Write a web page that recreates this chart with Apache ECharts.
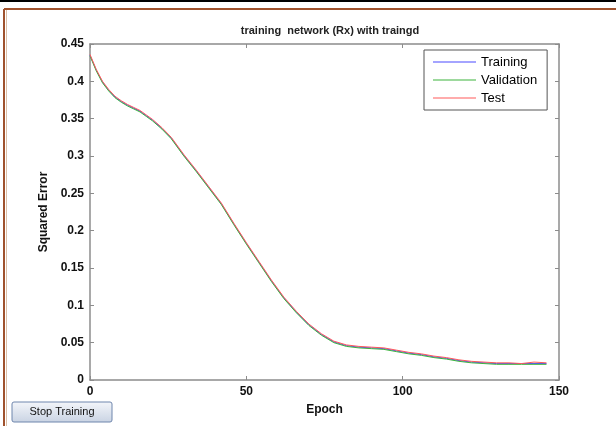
<!DOCTYPE html>
<html>
<head>
<meta charset="utf-8">
<script src="https://cdn.jsdelivr.net/npm/echarts@6/dist/echarts.min.js"></script>
<style>
html, body { margin: 0; padding: 0; background: #fff; }
#container { width: 616px; height: 426px; }
</style>
</head>
<body>
<div id="container"></div>
<script>
// values
var epochs = [0, 2, 4, 6, 8, 10, 12, 14, 16, 18, 20, 23, 26, 30, 34, 38, 42, 46, 50, 54, 58, 62, 66, 70, 74, 78, 82, 86, 90, 94, 98, 102, 106, 110, 114, 118, 122, 126, 130, 134, 138, 142, 146];
var trainErr = [0.435, 0.415, 0.399, 0.388, 0.379, 0.373, 0.368, 0.364, 0.360, 0.354, 0.348, 0.337, 0.324, 0.301, 0.280, 0.258, 0.236, 0.209, 0.183, 0.158, 0.133, 0.110, 0.091, 0.074, 0.061, 0.051, 0.046, 0.044, 0.043, 0.042, 0.039, 0.036, 0.034, 0.031, 0.029, 0.026, 0.024, 0.023, 0.022, 0.022, 0.022, 0.022, 0.022];
var validErr = [0.434, 0.414, 0.398, 0.387, 0.378, 0.372, 0.367, 0.363, 0.359, 0.353, 0.347, 0.336, 0.323, 0.300, 0.279, 0.257, 0.235, 0.208, 0.182, 0.157, 0.132, 0.109, 0.090, 0.073, 0.060, 0.050, 0.045, 0.043, 0.042, 0.041, 0.038, 0.035, 0.033, 0.030, 0.028, 0.025, 0.023, 0.022, 0.021, 0.021, 0.021, 0.021, 0.021];
var testErr = [0.436, 0.416, 0.400, 0.389, 0.380, 0.374, 0.369, 0.365, 0.361, 0.355, 0.349, 0.338, 0.325, 0.302, 0.281, 0.259, 0.237, 0.210, 0.184, 0.159, 0.134, 0.111, 0.092, 0.075, 0.062, 0.052, 0.047, 0.045, 0.044, 0.043, 0.040, 0.037, 0.035, 0.032, 0.030, 0.027, 0.025, 0.024, 0.023, 0.023, 0.022, 0.024, 0.023];
var seriesNames = ['Training', 'Validation', 'Test'];
var colors = ['#4a4aff', '#3cb43c', '#ff5a5a'];

function pairs(ys) {
    var out = [];
    for (var i = 0; i < epochs.length; i++) {
        out.push([epochs[i], ys[i]]);
    }
    return out;
}

var dom = document.getElementById("container");
var myChart = echarts.init(dom, null, { renderer: 'canvas' });
var axisGray = '#8c8c8c';
var labelFont = { color: '#111', fontSize: 12, fontWeight: 'bold', fontFamily: 'Liberation Sans, Arial, sans-serif' };

// axis with MATLAB-like inward ticks; the mirror copies on top/right get no labels
function boxAxis(extra) {
    return Object.assign({
        type: 'value',
        axisLine: { show: true, onZero: false, lineStyle: { color: axisGray, width: 1.5 } },
        axisTick: { show: true, inside: true, length: 4, lineStyle: { color: axisGray } },
        splitLine: { show: false }
    }, extra);
}

option = {
    animation: false,
    backgroundColor: '#fff',
    title: {
        text: 'training  network (Rx) with traingd',
        left: 325,
        top: 20,
        textAlign: 'center',
        textStyle: { fontSize: 11, fontWeight: 'bold', color: '#222', fontFamily: 'Liberation Sans, Arial, sans-serif' }
    },
    legend: {
        data: seriesNames,
        orient: 'vertical',
        left: 424,
        top: 50,
        padding: [5, 10, 5, 9],
        itemGap: 4,
        itemWidth: 43,
        itemHeight: 1,
        icon: 'rect',
        borderColor: '#555',
        borderWidth: 1,
        backgroundColor: '#fff',
        textStyle: { fontSize: 13, color: '#000', lineHeight: 14, fontFamily: 'Liberation Sans, Arial, sans-serif' }
    },
    grid: { left: 90, right: 57, top: 44, bottom: 46 },
    xAxis: [
        boxAxis({
            min: 0, max: 150, interval: 50,
            name: 'Epoch',
            nameLocation: 'middle',
            nameGap: 24,
            nameTextStyle: labelFont,
            axisLabel: Object.assign({ margin: 6 }, labelFont)
        }),
        boxAxis({ position: 'top', min: 0, max: 150, interval: 50, axisLabel: { show: false } })
    ],
    yAxis: [
        boxAxis({
            min: 0, max: 0.45, interval: 0.05,
            name: 'Squared Error',
            nameLocation: 'middle',
            nameGap: 40,
            nameTextStyle: labelFont,
            axisLabel: Object.assign({ margin: 6, formatter: function (v) { return String(+v.toFixed(2)); } }, labelFont)
        }),
        boxAxis({ position: 'right', min: 0, max: 0.45, interval: 0.05, axisLabel: { show: false } })
    ],
    series: [
        { name: seriesNames[0], type: 'line', data: pairs(trainErr), showSymbol: false, symbol: 'none', color: colors[0], lineStyle: { width: 1 } },
        { name: seriesNames[1], type: 'line', data: pairs(validErr), showSymbol: false, symbol: 'none', color: colors[1], lineStyle: { width: 1 } },
        { name: seriesNames[2], type: 'line', data: pairs(testErr), showSymbol: false, symbol: 'none', color: colors[2], lineStyle: { width: 1 } }
    ],
    graphic: [
        // page frame around the figure
        { type: 'rect', shape: { x: 0, y: 0, width: 616, height: 2 }, style: { fill: '#000' } },
        { type: 'line', shape: { x1: 4, y1: 9, x2: 616, y2: 9 }, style: { stroke: '#a0522d', lineWidth: 2 } },
        { type: 'line', shape: { x1: 4, y1: 9, x2: 4, y2: 426 }, style: { stroke: '#a0522d', lineWidth: 2 } },
        { type: 'line', shape: { x1: 6.5, y1: 10, x2: 6.5, y2: 426 }, style: { stroke: '#dcc0a8', lineWidth: 1 } },
        // stop button
        {
            type: 'rect',
            shape: { x: 12, y: 402, width: 100, height: 20, r: 2 },
            style: {
                fill: new echarts.graphic.LinearGradient(0, 0, 0, 1, [
                    { offset: 0, color: '#f4f6fa' },
                    { offset: 1, color: '#c9d3e3' }
                ]),
                stroke: '#6f86ad',
                lineWidth: 1
            }
        },
        {
            type: 'text',
            style: { x: 62, y: 412, text: 'Stop Training', fill: '#111', fontSize: 11, fontFamily: 'Liberation Sans, Arial, sans-serif', align: 'center', verticalAlign: 'middle' }
        }
    ]
};
if (option && typeof option === "object") {
    myChart.setOption(option, true);
}
</script>
</body>
</html>
